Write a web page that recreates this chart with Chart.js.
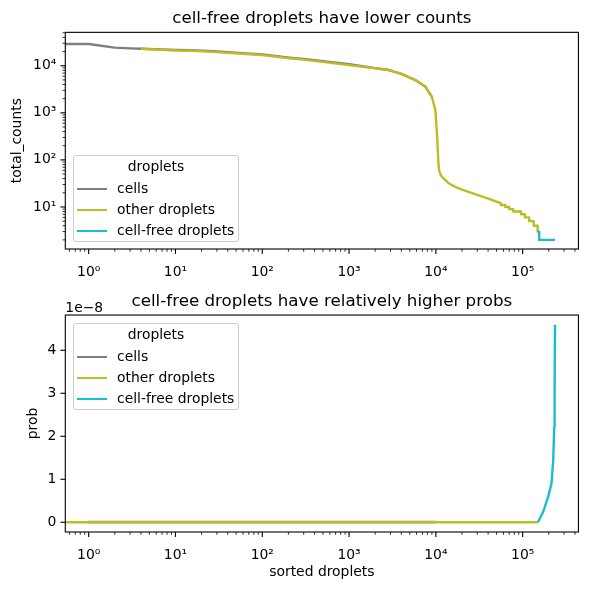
<!DOCTYPE html>
<html>
<head>
<meta charset="utf-8">
<script src="https://cdn.jsdelivr.net/npm/chart.js@4.4.0/dist/chart.umd.min.js"></script>
<style>
  body { margin: 0; background: #fff; }
  #wrap { position: relative; width: 590px; height: 590px; overflow: hidden; }
  canvas { position: absolute; left: 0; }
  #countsChart { top: 0; }
  #probChart { top: 285px; }
  .legend { position: absolute; left: 73px; width: 166px; height: 87px; box-sizing: border-box;
    border: 1px solid #cccccc; border-radius: 3px; background: rgba(255,255,255,0.8);
    font-family: 'DejaVu Sans'; font-size: 13.9px; color: #000; }
  .legend .ttl { position: absolute; left: 0; width: 100%; top: 2px; text-align: center; line-height: 17px; }
  .legend .row { position: absolute; left: 0; width: 100%; height: 17px; line-height: 17px; }
  .legend .swatch { position: absolute; left: 3px; top: 7.5px; width: 30px; height: 2px; }
  .legend .lbl { position: absolute; left: 43px; top: 0; white-space: nowrap; }
</style>
</head>
<body>
<div id="wrap">
  <canvas id="countsChart" width="590" height="285"></canvas>
  <canvas id="probChart" width="590" height="305"></canvas>
  <div class="legend" style="top:155px"></div>
  <div class="legend" style="top:323px"></div>
</div>
<script>
// series names and colours
const seriesNames = ['cells', 'other droplets', 'cell-free droplets'];
const seriesColors = ['#7f7f7f', '#bcbd22', '#17becf'];

// top panel: total counts against rank
const cellsRank = [0, 1, 2, 3, 4, 10, 16, 30, 73, 100, 206, 300, 1000, 2000, 2870, 4000, 5800, 7600, 9000];
const cellsCounts = [29000, 29000, 24200, 23400, 23000, 21700, 21400, 20100, 18000, 17300, 14900, 14000, 10800, 8900, 8100, 6700, 4960, 3570, 2190];

const otherRank = [4, 10, 16, 30, 73, 100, 206, 300, 1000, 2870, 4000, 5800, 7600, 9000, 9860, 10300, 10700, 11000,
  11700, 14000, 18000, 23800, 30000, 40200, 50000, 56000, 56000, 63000, 63000, 70000, 70000, 78000, 78000,
  86000, 86000, 96000, 96000, 106000, 106000, 119000, 119000, 134000, 134000, 148000, 148000, 150000];
const otherCounts = [23000, 21000, 20800, 19500, 17500, 16800, 14400, 13500, 10300, 8100, 6700, 4960, 3570, 2190, 1140, 363, 83, 55,
  44, 32, 25, 21, 18, 15, 13, 12, 11, 11, 10, 10, 9, 9, 8,
  8, 8, 8, 7, 7, 6, 6, 5, 5, 4, 4, 3, 3];

const freeRank = [148000, 155000, 155000, 236000];
const freeCounts = [3, 3, 2, 2];

// bottom panel: probability against rank
const cellsProbRank = [1, 10, 100, 1000, 10000];
const cellsProb = [0.008e-8, 0.008e-8, 0.008e-8, 0.008e-8, 0.008e-8];
const otherProbRank = [0, 1, 100, 10000, 150000];
const otherProb = [0, 0, 0, 0, 0];
const freeProbRank = [150000, 173000, 197000, 215000, 225000, 231000, 233500, 236000];
const freeProb = [0, 0.25e-8, 0.6e-8, 0.91e-8, 1.45e-8, 2.22e-8, 3.2e-8, 4.59e-8];

// axes
const xMajorTicks = [1, 10, 100, 1000, 10000, 100000];
const xTickLabels = ['10⁰', '10¹', '10²', '10³', '10⁴', '10⁵'];
const countMajorTicks = [10, 100, 1000, 10000];
const countTickLabels = ['10¹', '10²', '10³', '10⁴'];
const probTicks = [0, 1e-8, 2e-8, 3e-8, 4e-8];
const probTickLabels = ['0', '1', '2', '3', '4'];
const minorSteps = [2, 3, 4, 5, 6, 7, 8, 9];

const X_MIN = 0.538, X_MAX = 439000;
const COUNT_MIN = 1.28, COUNT_MAX = 51200;
const PROB_MIN = -0.226e-8, PROB_MAX = 4.82e-8;

Chart.defaults.font.family = 'DejaVu Sans';
Chart.defaults.font.size = 13.9;
Chart.defaults.color = '#000';

function logTicks(majors, lo, hi) {
  const decades = [majors[0] / 10].concat(majors);
  const out = [];
  decades.forEach(d => {
    if (d >= lo && d <= hi) out.push({ value: d, major: majors.includes(d) });
    minorSteps.forEach(m => {
      const v = d * m;
      if (v >= lo && v <= hi && !majors.includes(v)) out.push({ value: v, major: false });
    });
  });
  return out;
}

function pairs(xs, ys) {
  return xs.map((x, i) => ({ x: x, y: ys[i] }));
}

function makeDatasets(sets) {
  return sets.map((s, i) => ({
    label: seriesNames[i],
    data: pairs(s[0], s[1]),
    borderColor: seriesColors[i],
    backgroundColor: seriesColors[i],
    borderWidth: 2.4,
    pointRadius: 0,
    showLine: true,
    borderJoinStyle: 'round',
    order: 3 - i
  }));
}

// spines, tick marks and offset text, matplotlib style
const frame = {
  id: 'frame',
  afterDraw(chart, args, opts) {
    const { ctx, chartArea: a } = chart;
    ctx.save();
    ctx.strokeStyle = '#000';
    ctx.lineWidth = 1.1;
    ctx.strokeRect(a.left, a.top, a.right - a.left, a.bottom - a.top);
    ['x', 'y'].forEach(id => {
      const s = chart.scales[id];
      s.ticks.forEach(t => {
        const len = t.major ? 4.9 : 2.8;
        const p = s.getPixelForValue(t.value);
        ctx.lineWidth = t.major ? 1.1 : 0.8;
        ctx.beginPath();
        if (id === 'x') {
          if (p < a.left - 0.5 || p > a.right + 0.5) return;
          ctx.moveTo(p, a.bottom); ctx.lineTo(p, a.bottom + len);
        } else {
          if (p < a.top - 0.5 || p > a.bottom + 0.5) return;
          ctx.moveTo(a.left, p); ctx.lineTo(a.left - len, p);
        }
        ctx.stroke();
      });
    });
    if (opts.offsetText) {
      ctx.fillStyle = '#000';
      ctx.font = '13.9px "DejaVu Sans"';
      ctx.textAlign = 'left';
      ctx.textBaseline = 'alphabetic';
      ctx.fillText(opts.offsetText, a.left, a.top - 3.5);
    }
    ctx.restore();
  }
};

function xAxis(height, withTitle) {
  return {
    type: 'logarithmic', min: X_MIN, max: X_MAX, bounds: 'data',
    afterBuildTicks: s => { s.ticks = logTicks(xMajorTicks, X_MIN, X_MAX); },
    afterFit: s => { s.height = height; },
    grid: { display: false, drawTicks: false },
    border: { display: false },
    ticks: {
      autoSkip: false, maxRotation: 0, padding: 15,
      callback: v => { const i = xMajorTicks.indexOf(v); return i < 0 ? '' : xTickLabels[i]; }
    },
    title: { display: withTitle, text: 'sorted droplets', padding: { top: 0, bottom: 9 } }
  };
}

new Chart(document.getElementById('countsChart'), {
  type: 'scatter',
  data: { datasets: makeDatasets([[cellsRank, cellsCounts], [otherRank, otherCounts], [freeRank, freeCounts]]) },
  plugins: [frame],
  options: {
    responsive: false, animation: false,
    layout: { padding: { left: 0, right: 9.7, top: 0, bottom: 0 } },
    plugins: {
      legend: { display: false }, tooltip: { enabled: false },
      title: { display: true, fullSize: false, text: 'cell-free droplets have lower counts',
        font: { size: 16.7, weight: 'normal' }, padding: { top: 9, bottom: 3.3 } },
      frame: {}
    },
    scales: {
      x: xAxis(36, false),
      y: {
        type: 'logarithmic', min: COUNT_MIN, max: COUNT_MAX, bounds: 'data',
        afterBuildTicks: s => { s.ticks = logTicks(countMajorTicks, COUNT_MIN, COUNT_MAX); },
        afterFit: s => { s.width = 65.3; },
        grid: { display: false, drawTicks: false },
        border: { display: false },
        ticks: {
          autoSkip: false, padding: 9,
          callback: v => { const i = countMajorTicks.indexOf(v); return i < 0 ? '' : countTickLabels[i]; }
        },
        title: { display: true, text: 'total_counts', padding: { top: 9, bottom: 0 } }
      }
    }
  }
});

new Chart(document.getElementById('probChart'), {
  type: 'scatter',
  data: { datasets: makeDatasets([[cellsProbRank, cellsProb], [otherProbRank, otherProb], [freeProbRank, freeProb]]) },
  plugins: [frame],
  options: {
    responsive: false, animation: false,
    layout: { padding: { left: 0, right: 9.7, top: 0, bottom: 0 } },
    plugins: {
      legend: { display: false }, tooltip: { enabled: false },
      title: { display: true, fullSize: false, text: 'cell-free droplets have relatively higher probs',
        font: { size: 16.7, weight: 'normal' }, padding: { top: 6.7, bottom: 3.3 } },
      frame: { offsetText: '1e\u22128' }
    },
    scales: {
      x: xAxis(58, true),
      y: {
        type: 'linear', min: PROB_MIN, max: PROB_MAX, bounds: 'data',
        afterBuildTicks: s => { s.ticks = probTicks.map(v => ({ value: v, major: true })); },
        afterFit: s => { s.width = 65.3; },
        grid: { display: false, drawTicks: false },
        border: { display: false },
        ticks: {
          autoSkip: false, padding: 9,
          callback: v => { const i = probTicks.indexOf(v); return i < 0 ? '' : probTickLabels[i]; }
        },
        title: { display: true, text: 'prob', padding: { top: 25, bottom: 0 } }
      }
    }
  }
});

// legends drawn as html boxes inside the axes
document.querySelectorAll('.legend').forEach(box => {
  let html = '<div class="ttl">droplets</div>';
  seriesNames.forEach((name, i) => {
    html += '<div class="row" style="top:' + (24 + i * 21) + 'px">' +
      '<div class="swatch" style="background:' + seriesColors[i] + '"></div>' +
      '<div class="lbl">' + name + '</div></div>';
  });
  box.innerHTML = html;
});
</script>
</body>
</html>
